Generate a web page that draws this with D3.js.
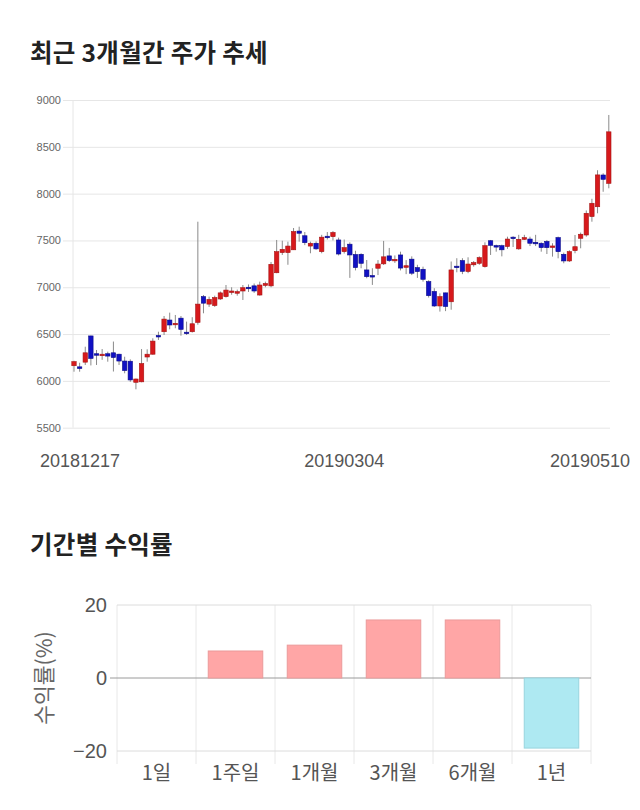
<!DOCTYPE html>
<html><head><meta charset="utf-8">
<script src="https://cdn.jsdelivr.net/npm/d3@7"></script>
<style>body{margin:0;background:#fff;} svg{display:block;font-family:"Noto Sans CJK KR","Noto Sans",sans-serif;}</style>
</head><body>
<svg id="c" width="640" height="810"></svg>
<script>
const dates = ["20181217","20181218","20181219","20181220","20181221","20181224","20181226","20181227","20181228",
"20190102","20190103","20190104","20190107","20190108","20190109","20190110","20190111","20190114","20190115","20190116","20190117","20190118","20190121","20190122","20190123","20190124","20190125","20190128","20190129","20190130","20190131",
"20190201","20190207","20190208","20190211","20190212","20190213","20190214","20190215","20190218","20190219","20190220","20190221","20190222","20190225","20190226","20190227","20190228",
"20190304","20190305","20190306","20190307","20190308","20190311","20190312","20190313","20190314","20190315","20190318","20190319","20190320","20190321","20190322","20190325","20190326","20190327","20190328","20190329",
"20190401","20190402","20190403","20190404","20190405","20190408","20190409","20190410","20190411","20190412","20190415","20190416","20190417","20190418","20190419","20190422","20190423","20190424","20190425","20190426","20190429","20190430",
"20190502","20190503","20190507","20190508","20190509","20190510"];
const openV = [6162,6150,6200,6480,6290,6275,6290,6300,6285,6212,6210,5985,5990,6255,6285,6485,6525,6650,6600,6670,6520,6525,6625,6900,6820,6805,6875,6900,6950,6936,6960,7000,7015,6917,7020,7015,7155,7370,7370,7400,7600,7550,7440,7470,7380,7545,7540,7505,7380,7460,7350,7352,7185,7125,7203,7250,7335,7282,7345,7213,7300,7210,7192,7060,6955,6800,6940,6845,7225,7285,7168,7240,7256,7220,7497,7445,7444,7435,7535,7410,7512,7515,7480,7470,7490,7427,7530,7352,7281,7391,7523,7558,7755,7860,8199,8110];
const highV = [6215,6194,6365,6483,6330,6340,6312,6420,6290,6258,6230,6025,6340,6337,6455,6525,6693,6729,6704,6693,6633,6680,7700,6917,6900,6910,6955,7024,7000,6975,7024,7030,7040,7060,7060,7270,7505,7497,7487,7633,7647,7590,7487,7490,7560,7590,7600,7530,7510,7480,7390,7363,7291,7203,7290,7495,7420,7340,7380,7290,7330,7240,7220,7075,6990,6935,6942,7275,7310,7310,7320,7280,7330,7480,7505,7455,7455,7540,7545,7560,7560,7540,7560,7480,7505,7470,7541,7370,7395,7558,7584,7820,7945,8250,8217,8840];
const lowV = [6098,6098,6170,6165,6170,6225,6205,6100,6170,6081,5990,5910,5985,6205,6280,6437,6490,6551,6562,6483,6490,6516,6600,6722,6790,6790,6865,6890,6920,6910,6864,6950,6940,6910,7000,7000,7150,7345,7240,7398,7487,7450,7363,7400,7363,7510,7500,7340,7360,7100,7180,7203,7096,7025,7130,7238,7270,7260,7180,7140,7130,7100,7060,6890,6790,6740,6745,6760,7160,7140,7150,7220,7240,7210,7345,7380,7330,7410,7430,7400,7505,7440,7440,7380,7355,7327,7309,7256,7270,7363,7416,7540,7700,7790,8020,8057];
const closeV = [6205,6132,6300,6240,6275,6285,6265,6250,6212,6110,6010,6020,6185,6285,6425,6475,6660,6597,6615,6550,6505,6610,6820,6830,6870,6890,6940,6970,6960,6953,6995,6990,6960,7024,7040,7245,7380,7405,7440,7595,7577,7476,7470,7410,7535,7540,7585,7355,7423,7345,7210,7256,7113,7115,7248,7325,7285,7298,7205,7230,7150,7167,7085,6910,6800,6900,6795,7185,7215,7170,7248,7263,7316,7444,7448,7435,7400,7515,7525,7512,7530,7470,7470,7423,7423,7441,7380,7281,7380,7433,7566,7790,7897,8200,8153,8660];
const priceTicks = [5500,6000,6500,7000,7500,8000,8500,9000];
const shownDates = ["20181217","20190304","20190510"];

const periods = ["1일","1주일","1개월","3개월","6개월","1년"];
const returns = [0,7.4,9.0,15.9,15.9,-19.2];
const returnTicks = [-20,0,20];

const svg = d3.select("#c");
const txt = "#222";

// Titles
svg.append("text").attr("x",30).attr("y",62).attr("font-size",24.5).attr("font-weight","bold").attr("fill",txt).attr("letter-spacing",0.3).text("최근 3개월간 주가 추세");
svg.append("text").attr("x",30).attr("y",554).attr("font-size",24.5).attr("font-weight","bold").attr("fill",txt).attr("letter-spacing",0.3).text("기간별 수익률");

// ---- Candlestick chart
const x = d3.scalePoint().domain(dates).range([74, 608.8]);
const y = d3.scaleLinear().domain([5500,9000]).range([427.7,100]);
const g1 = svg.append("g");
const yAx = g1.append("g").attr("transform","translate(73,0)")
  .call(d3.axisLeft(y).tickValues(priceTicks).tickSize(10).tickPadding(2).tickFormat(d3.format("d")));
yAx.select(".domain").remove();
yAx.selectAll(".tick line").attr("stroke","#e6e6e6").attr("x2",537);
yAx.selectAll(".tick line").attr("x1",-10);
yAx.selectAll(".tick text").attr("fill","#666").attr("font-size",11).attr("font-family","Liberation Sans, Arial, sans-serif");
g1.append("line").attr("x1",73).attr("x2",73).attr("y1",100).attr("y2",427.7).attr("stroke","#e6e6e6");

const idx = d3.range(dates.length);
const up = i => closeV[i] >= openV[i];
g1.selectAll("line.wick").data(idx).join("line").attr("class","wick")
  .attr("x1",i=>x(dates[i])).attr("x2",i=>x(dates[i]))
  .attr("y1",i=>y(highV[i])).attr("y2",i=>y(lowV[i]))
  .attr("stroke","#8a8a8a").attr("stroke-width",1);
const bw = 4.4;
g1.selectAll("rect.body").data(idx).join("rect").attr("class","body")
  .attr("x",i=>x(dates[i])-bw/2).attr("width",bw)
  .attr("y",i=>y(Math.max(openV[i],closeV[i])))
  .attr("height",i=>Math.max(1.5, Math.abs(y(openV[i])-y(closeV[i]))))
  .attr("fill",i=>up(i)?"#d7191c":"#1010c4")
  .attr("stroke",i=>up(i)?"#a51313":"#0a0a88").attr("stroke-width",0.6);

// date labels
const dl = g1.append("g");
shownDates.forEach(d=>{
  const t = dl.append("text").attr("y",467).attr("font-size",18).attr("fill","#555")
    .attr("font-family","Liberation Sans, Arial, sans-serif").text(d);
  const w = t.node().getComputedTextLength();
  let cx = x(d);
  cx = Math.max(40 + w/2, Math.min(630 - w/2, cx));
  t.attr("x",cx).attr("text-anchor","middle");
});

// ---- Bar chart
const bx = d3.scaleBand().domain(periods).range([117,591]).paddingInner(0.31).paddingOuter(0.155);
const by = d3.scaleLinear().domain([-20,20]).range([751,605]);
const g2 = svg.append("g");
const bounds = d3.range(periods.length+1).map(k=>117 + k*(474/periods.length));
g2.selectAll("line.vg").data(bounds).join("line").attr("class","vg")
  .attr("x1",d=>d).attr("x2",d=>d).attr("y1",605).attr("y2",764).attr("stroke","#e8e8e8");
const byAx = g2.append("g").attr("transform","translate(117,0)")
  .call(d3.axisLeft(by).tickValues(returnTicks).tickSize(0).tickPadding(10));
byAx.select(".domain").remove();
byAx.selectAll(".tick text").attr("fill","#555").attr("font-size",20).attr("font-family","Liberation Sans, Arial, sans-serif");
g2.selectAll("line.hg").data(returnTicks).join("line").attr("class","hg")
  .attr("x1",d=>d===0?110:117).attr("x2",591).attr("y1",d=>by(d)).attr("y2",d=>by(d))
  .attr("stroke",d=>d===0?"#9a9a9a":"#dcdcdc");
g2.selectAll("rect.bar").data(periods).join("rect").attr("class","bar")
  .attr("x",d=>bx(d)).attr("width",bx.bandwidth())
  .attr("y",(d,i)=>by(Math.max(0,returns[i])))
  .attr("height",(d,i)=>Math.abs(by(returns[i])-by(0)))
  .attr("fill",(d,i)=>returns[i]>=0?"#ffa6a6":"#aee9f2")
  .attr("stroke",(d,i)=>returns[i]>=0?"#eb9a9a":"#98d4de").attr("stroke-width",1);
g2.selectAll("text.cat").data(periods).join("text").attr("class","cat")
  .attr("x",d=>bx(d)+bx.bandwidth()/2).attr("y",780).attr("text-anchor","middle")
  .attr("font-size",20).attr("fill","#555").text(d=>d);
svg.append("text").attr("transform","translate(52,678) rotate(-90)").attr("text-anchor","middle")
  .attr("font-size",21.5).attr("fill","#666").text("수익률(%)");
</script>
</body></html>
